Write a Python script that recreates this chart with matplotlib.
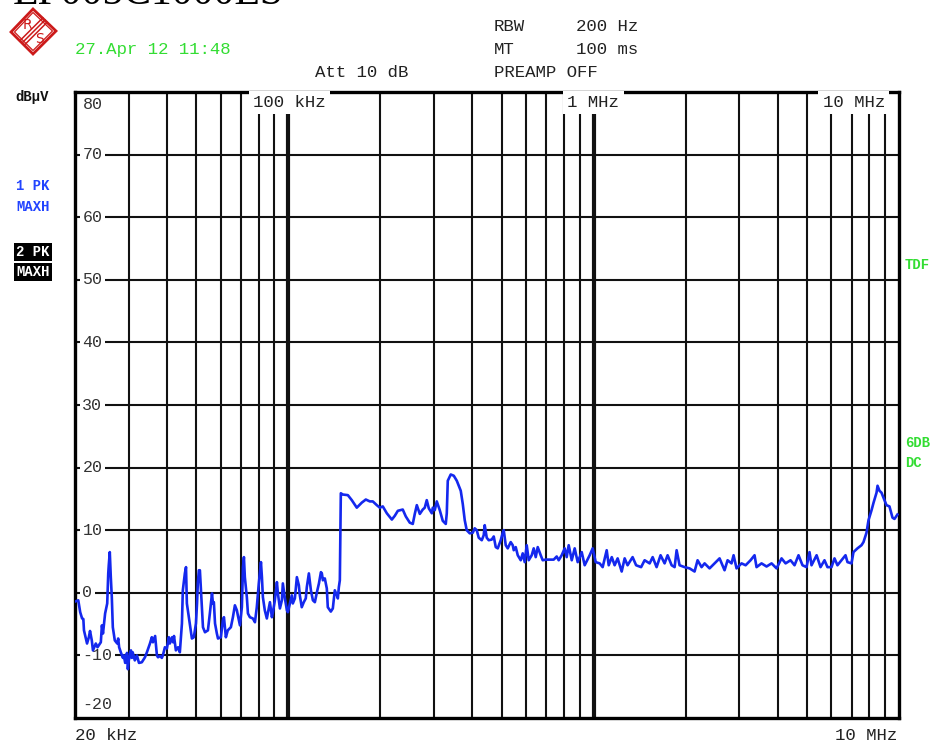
import numpy as np
import matplotlib.pyplot as plt
from matplotlib.patches import Polygon

# trace 1 (PK, MAXH): frequency in kHz, level in dBuV
freq_khz = [
    20.0, 20.5, 20.8, 21.1, 21.3, 21.4, 21.9, 22.2, 22.4, 22.7, 22.9, 23.4, 23.7, 24.3, 24.5,
    24.7, 25.1, 25.5, 25.7, 25.8, 26.0, 26.2, 26.4, 26.6, 27.0, 27.5, 27.7, 27.9, 28.3, 28.7,
    28.9, 29.2, 29.6, 29.8, 30.0, 30.5, 30.7, 30.9, 31.4, 31.9, 32.4, 33.1, 33.9, 34.4, 35.2,
    35.7, 36.0, 36.6, 37.1, 37.4, 38.0, 38.5, 38.8, 39.4, 40.0, 40.6, 40.9, 41.6, 41.9, 42.2,
    42.8, 43.5, 44.1, 44.8, 45.1, 45.8, 46.2, 46.5, 47.2, 48.3, 49.0, 49.8, 50.2, 50.5, 50.9,
    51.3, 52.1, 52.5, 53.3, 54.5, 55.3, 56.2, 56.6, 57.0, 57.5, 58.3, 58.8, 60.1, 61.0, 61.5,
    62.4, 63.3, 64.8, 65.8, 66.8, 67.8, 68.3, 69.4, 70.4, 71.0, 71.5, 72.0, 73.1, 73.7, 74.8,
    76.5, 77.7, 78.8, 80.0, 81.3, 81.9, 82.5, 83.7, 85.0, 85.6, 87.0, 88.3, 89.0, 90.3, 91.7,
    92.4, 93.8, 95.2, 95.9, 97.4, 98.9, 99.6, 101.1, 102.6, 103.4, 105.0, 106.6, 108.2, 109.0,
    110.6, 112.3, 114.0, 114.9, 116.7, 118.5, 120.3, 122.1, 124.0, 125.9, 127.8, 128.7, 129.7,
    131.6, 133.6, 134.6, 137.7, 139.8, 141.9, 144.1, 145.2, 146.3, 147.4, 148.5, 150.7, 156.6,
    161.3, 167.5, 173.9, 179.3, 184.8, 189.0, 194.8, 199.3, 203.8, 210.1, 218.2, 223.1, 228.3,
    236.9, 242.4, 249.8, 255.5, 259.4, 263.4, 269.4, 275.5, 279.7, 283.9, 288.3, 295.0, 297.2,
    301.6, 306.2, 313.2, 320.3, 327.7, 330.2, 332.7, 340.2, 348.1, 356.1, 366.9, 372.5, 378.1,
    383.8, 392.7, 401.7, 407.7, 413.9, 420.2, 429.9, 436.3, 439.6, 446.3, 453.1, 463.5, 470.6,
    477.7, 485.0, 496.0, 503.6, 507.4, 515.1, 522.9, 534.8, 543.0, 547.1, 555.4, 563.9, 576.8,
    585.5, 594.4, 603.4, 612.6, 626.6, 636.1, 645.8, 655.6, 670.6, 680.8, 696.3, 717.6, 739.6,
    756.5, 768.0, 785.5, 803.6, 815.8, 828.2, 847.4, 866.5, 886.3, 913.5, 934.3, 970.2, 992.4,
    1015, 1046, 1070, 1103, 1120, 1146, 1171, 1198, 1235, 1263, 1291, 1341, 1377, 1430, 1468,
    1525, 1560, 1607, 1656, 1707, 1746, 1800, 1841, 1869, 1911, 1985, 2061, 2140, 2189, 2256,
    2308, 2396, 2488, 2584, 2683, 2745, 2828, 2872, 2937, 3050, 3145, 3264, 3364, 3415, 3546,
    3683, 3825, 3972, 4124, 4251, 4413, 4548, 4687, 4830, 4979, 5092, 5170, 5372, 5533, 5701,
    5830, 6010, 6148, 6286, 6481, 6680, 6781, 6988, 7094, 7310, 7536, 7650, 7826, 7945, 8130,
    8254, 8442, 8506, 8630, 8762, 8895, 9097, 9306, 9522, 9664, 9882,
]
level_dbuv = [
    -1.4, -1.2, -3.1, -4.1, -4.2, -6.0, -8.1, -7.1, -6.1, -7.6, -9.2, -8.1, -8.7, -7.9, -5.2,
    -6.5, -3.3, -1.7, 3.1, 4.4, 6.5, 2.5, -0.7, -5.5, -7.6, -8.1, -7.3, -8.7, -9.6, -10.4,
    -10.0, -11.2, -9.6, -12.2, -10.8, -9.2, -10.4, -9.5, -10.8, -10.0, -11.2, -11.1, -10.3, -9.5, -8.1,
    -7.1, -7.9, -6.9, -10.0, -10.3, -10.1, -10.4, -10.0, -8.7, -8.9, -7.1, -8.1, -7.1, -7.9, -6.9,
    -9.2, -8.7, -9.5, -4.9, 0.4, 3.1, 4.1, -1.7, -3.9, -7.3, -7.1, -4.9, -1.7, 1.5, 3.6,
    3.6, -2.3, -5.5, -6.3, -6.0, -3.3, -0.1, -1.7, -1.5, -4.9, -6.5, -7.3, -7.1, -4.4, -3.9,
    -7.1, -6.0, -5.5, -3.9, -2.0, -2.8, -3.6, -5.2, -2.3, 4.1, 5.7, 2.5, -0.7, -3.3, -3.9,
    -4.1, -4.7, -2.3, 1.5, 4.9, 2.5, -0.7, -2.8, -4.1, -3.3, -1.5, -3.9, -3.1, -1.2, 1.7,
    -0.1, -2.5, -1.2, 1.5, -0.9, -2.8, -3.1, -1.7, -0.4, -1.7, -0.9, 2.5, 1.2, -0.4,
    -2.3, -1.5, -0.9, 0.9, 3.1, 0.4, -1.2, -1.5, 0.1, 1.5, 3.3, 3.1, 2.0,
    2.3, 0.7, -2.3, -3.0, -2.5, 0.4, -0.4, -0.9, 0.9, 2.0, 15.9, 15.7, 15.6,
    14.8, 13.6, 14.4, 14.9, 14.6, 14.6, 14.0, 13.6, 13.8, 12.7, 11.7, 12.3, 13.1,
    13.3, 12.2, 11.2, 11.0, 12.6, 14.0, 12.6, 13.3, 13.6, 14.8, 13.5, 12.7, 13.6,
    13.2, 14.6, 13.2, 11.5, 11.0, 12.7, 17.9, 18.9, 18.7, 17.9, 16.3, 14.2, 11.6,
    10.0, 9.5, 9.6, 10.3, 10.0, 8.8, 8.4, 9.2, 10.8, 8.8, 8.4, 8.5, 9.0,
    7.3, 7.1, 8.4, 9.6, 10.0, 7.6, 7.1, 8.1, 7.6, 6.8, 7.3, 6.0, 5.2,
    6.3, 4.9, 7.6, 5.2, 6.0, 7.1, 5.7, 7.3, 6.0, 5.2, 5.3, 5.3, 5.3,
    5.8, 5.2, 6.0, 7.1, 5.7, 7.6, 5.2, 7.1, 4.9, 6.5, 4.4, 6.0, 7.1,
    4.9, 4.7, 4.1, 6.8, 4.4, 5.7, 4.4, 5.5, 3.4, 5.5, 4.4, 5.7, 4.4, 4.1, 5.2,
    4.7, 5.7, 4.1, 6.0, 4.7, 6.0, 4.4, 4.1, 6.8, 4.4, 4.1, 3.9, 3.4, 5.2, 4.1,
    4.7, 3.9, 4.7, 5.5, 3.6, 5.2, 4.7, 6.0, 3.9, 4.7, 4.4, 5.2, 6.0, 4.1, 4.7,
    4.2, 4.7, 3.9, 5.5, 4.7, 5.2, 4.4, 6.0, 4.4, 4.1, 6.5, 4.4, 6.0, 4.1, 5.2,
    4.1, 4.1, 5.5, 4.4, 5.2, 6.0, 4.9, 4.7, 6.5, 7.1, 7.6, 8.1, 9.6, 11.6, 13.2,
    14.4, 16.0, 17.1, 16.3, 16.0, 15.2, 14.0, 13.8, 12.0, 11.8, 12.5,
]

y_levels = [80, 70, 60, 50, 40, 30, 20, 10, 0, -10, -20]
minor_khz = [30, 40, 50, 60, 70, 80, 90, 200, 300, 400, 500, 600, 700, 800, 900,
             2000, 3000, 4000, 5000, 6000, 7000, 8000, 9000]
decade_khz = [100, 1000]

mono = 'Liberation Mono'
green = '#33dd33'

fig = plt.figure(figsize=(9.38, 7.53), dpi=100)
fig.patch.set_facecolor('white')

ax = fig.add_axes([75 / 938, 35 / 753, 824 / 938, 626 / 753])
ax.set_xscale('log')
ax.set_xlim(20e3, 10e6)
ax.set_ylim(-20, 80)
ax.set_xticks([])
ax.set_yticks([])
ax.minorticks_off()
for s in ax.spines.values():
    s.set_linewidth(2.4)
    s.set_color('black')

for v in y_levels[1:-1]:
    ax.axhline(v, color='#111111', lw=1.5, zorder=1)
for f in minor_khz:
    ax.axvline(f * 1e3, color='#111111', lw=1.5, zorder=1)
for f in decade_khz:
    ax.axvline(f * 1e3, color='#111111', lw=3.0, zorder=1)

# level labels sit inside the grid, punching a gap in the lines
for v in y_levels:
    yy = v
    va = 'center'
    if v == 80:
        yy, va = 79.2, 'top'
    elif v == -20:
        yy, va = -17.9, 'center'
    ax.text(0.009, yy, str(v), transform=ax.get_yaxis_transform(), fontsize=12,
            family=mono, color='#333333', ha='left', va=va, zorder=3,
            bbox=dict(boxstyle='square,pad=0.15', fc='white', ec='none'))

# frequency labels along the top of the grid
for f, lab in [(76.5, '100 kHz'), (820, '1 MHz'), (5620, '10 MHz')]:
    ax.text(f * 1e3, 0.995, lab, transform=ax.get_xaxis_transform(), fontsize=12.5,
            family=mono, color='#222222', ha='left', va='top', zorder=3,
            bbox=dict(boxstyle='square,pad=0.25', fc='white', ec='none'))

ax.plot(np.array(freq_khz) * 1e3, level_dbuv, color='#1428ee', lw=1.9, zorder=4)

# overlay in pixel coordinates for the screen annotations
ov = fig.add_axes([0, 0, 1, 1], facecolor='none')
ov.set_xlim(0, 938)
ov.set_ylim(753, 0)
ov.axis('off')

ov.text(13, 3.5, 'EP005C1000ES', family='Liberation Serif', fontsize=30,
        color='black', ha='left', va='baseline')

# R&S logo
red = '#cc1a1a'
ov.add_patch(Polygon([(33, 9), (56, 31), (33, 54), (11, 32)], closed=True,
                     fill=False, ec=red, lw=2.0))
ov.add_patch(Polygon([(33, 12.5), (52.5, 31), (33, 50.5), (14.5, 32)], closed=True,
                     fill=False, ec=red, lw=0.9))
for off in (-2.2, 0, 2.2):
    ov.plot([45 + off, 22 + off], [20 + off, 43 + off], color=red, lw=1.1)
ov.text(27, 25, 'R', color=red, fontsize=10, ha='center', va='center', family='DejaVu Sans')
ov.text(39.5, 39, 'S', color=red, fontsize=10, ha='center', va='center', family='DejaVu Sans')

ov.text(75, 49, '27.Apr 12 11:48', family=mono, fontsize=12.5, color=green, va='center')
ov.text(494, 26, 'RBW', family=mono, fontsize=12.5, color='#222222', va='center')
ov.text(576, 26, '200 Hz', family=mono, fontsize=12.5, color='#222222', va='center')
ov.text(494, 49, 'MT', family=mono, fontsize=12.5, color='#222222', va='center')
ov.text(576, 49, '100 ms', family=mono, fontsize=12.5, color='#222222', va='center')
ov.text(315, 72, 'Att 10 dB', family=mono, fontsize=12.5, color='#222222', va='center')
ov.text(494, 72, 'PREAMP OFF', family=mono, fontsize=12.5, color='#222222', va='center')

ov.text(15, 97, 'dBµV', family=mono, fontsize=10, weight='bold', color='#111111', va='center')
ov.text(16, 186, '1 PK', family=mono, fontsize=10, weight='bold', color='#2244ff', va='center')
ov.text(16, 207, 'MAXH', family=mono, fontsize=10, weight='bold', color='#2244ff', va='center')
ov.text(16, 252, '2 PK', family=mono, fontsize=10, weight='bold', color='white', va='center',
        bbox=dict(boxstyle='square,pad=0.15', fc='black', ec='none'))
ov.text(16, 272, 'MAXH', family=mono, fontsize=10, weight='bold', color='white', va='center',
        bbox=dict(boxstyle='square,pad=0.15', fc='black', ec='none'))

ov.text(905, 265, 'TDF', family=mono, fontsize=10, weight='bold', color=green, va='center')
ov.text(905, 443, '6DB', family=mono, fontsize=10, weight='bold', color=green, va='center')
ov.text(905, 463, 'DC', family=mono, fontsize=10, weight='bold', color=green, va='center')

ov.text(75, 736, '20 kHz', family=mono, fontsize=12.5, color='#222222', va='center')
ov.text(897, 736, '10 MHz', family=mono, fontsize=12.5, color='#222222', va='center', ha='right')

fig.savefig('out.png', dpi=100)
